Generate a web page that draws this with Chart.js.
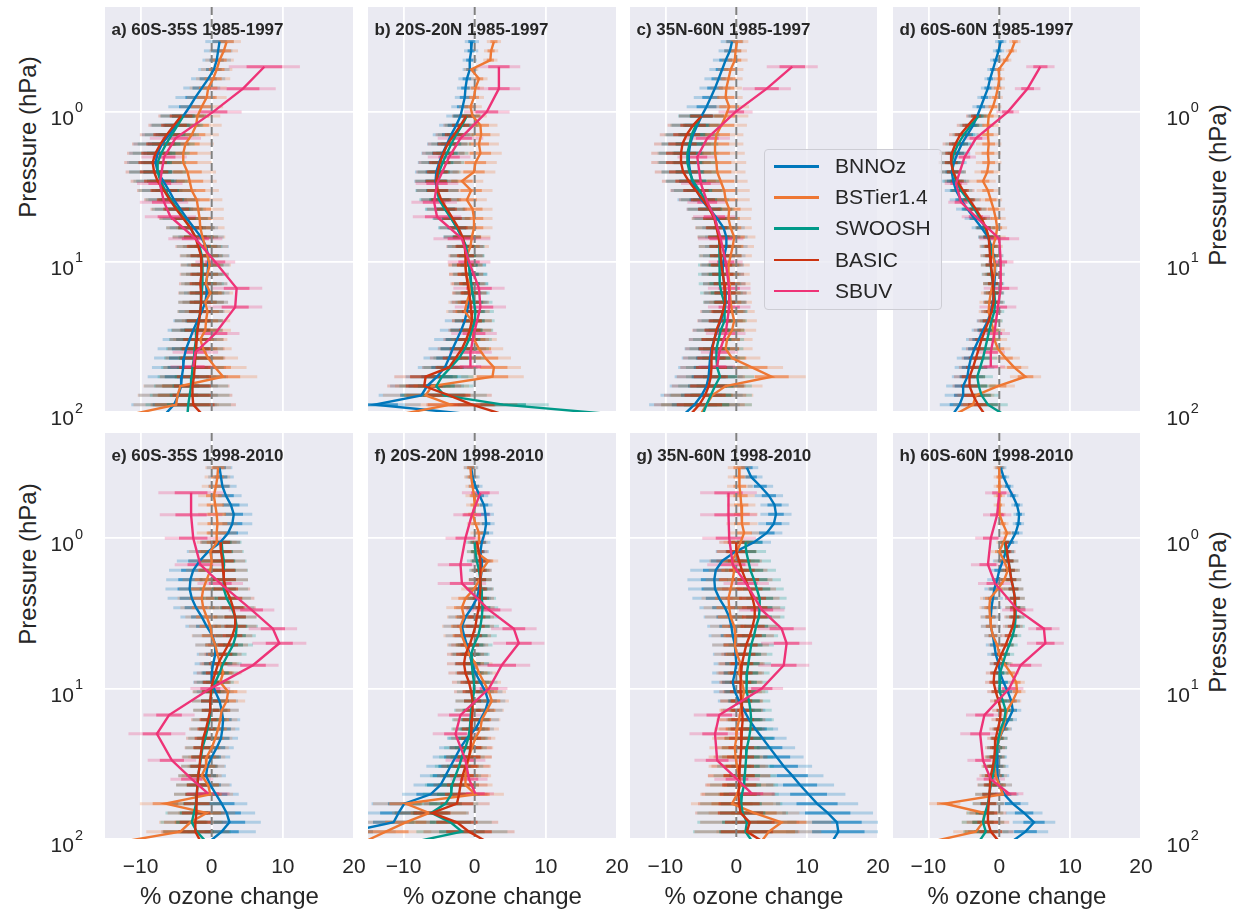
<!DOCTYPE html>
<html>
<head>
<meta charset="utf-8">
<script src="https://cdn.jsdelivr.net/npm/chart.js@4.4.0/dist/chart.umd.min.js"></script>
<style>
  body { margin: 0; background: #ffffff; width: 1236px; height: 915px; position: relative; overflow: hidden;
         font-family: "Liberation Sans", Arial, sans-serif; color: #262626; }
  canvas { position: absolute; }
  .ytitle { position: absolute; font-size: 24px; white-space: nowrap; transform: translate(-50%, -50%) rotate(-90deg); }
  #legend { position: absolute; left: 764px; top: 149px; width: 176px; height: 159px; z-index: 10;
            border: 1px solid #cdcdd4; border-radius: 4px; background: rgba(234, 234, 242, 0.8); }
  .lrow { position: absolute; left: 0; height: 0; }
  .lline { position: absolute; left: 9px; width: 45px; height: 2.5px; top: -1px; }
  .ltext { position: absolute; left: 70px; top: -13px; font-size: 21px; line-height: 26px; white-space: nowrap; }
</style>
</head>
<body>
<div class="ytitle" style="left:28px; top:137px">Pressure (hPa)</div>
<div class="ytitle" style="left:28px; top:564px">Pressure (hPa)</div>
<div class="ytitle" style="left:1218px; top:185px">Pressure (hPa)</div>
<div class="ytitle" style="left:1218px; top:612px">Pressure (hPa)</div>
<div id="legend"></div>
<script>
// series and levels
const SERIES_NAMES = ['BNNOz', 'BSTier1.4', 'SWOOSH', 'BASIC', 'SBUV'];
const SERIES_COLORS = ['#0077BB', '#EE7733', '#009988', '#CC3311', '#EE3377'];
const PANEL_TITLES = ['a) 60S-35S 1985-1997', 'b) 20S-20N 1985-1997', 'c) 35N-60N 1985-1997', 'd) 60S-60N 1985-1997',
                      'e) 60S-35S 1998-2010', 'f) 20S-20N 1998-2010', 'g) 35N-60N 1998-2010', 'h) 60S-60N 1998-2010'];
const X_TICKS = [-10, 0, 10, 20];
const Y_TICKS = [1, 10, 100];

// pressure levels (hPa), top to bottom
const PRESSURE_MODEL = [0.340, 0.392, 0.452, 0.522, 0.602, 0.694, 0.801, 0.924, 1.066, 1.229, 1.418, 1.636, 1.887, 2.177,
  2.512, 2.897, 3.342, 3.855, 4.447, 5.130, 5.918, 6.827, 7.876, 9.085, 10.48, 12.09, 13.95, 16.09, 18.56, 21.41, 24.70,
  28.49, 32.86, 37.91, 43.73, 50.45, 58.19, 67.13, 77.44, 89.33, 103.05];
const PRESSURE_SWOOSH = PRESSURE_MODEL.slice(8);
const PRESSURE_SBUV = [0.5, 0.7, 1, 1.5, 2, 3, 4, 5, 7, 10, 15, 20, 30, 40, 50];

// a) 60S-35S 1985-1997
const bnnozA = [1.1, 0.9, 0.7, 0.3, -0.5, -1.4, -2.3, -3.1, -4.0, -5.0, -6.0, -7.0, -7.6, -7.9, -7.6, -6.8, -6.0, -5.3, -4.4, -3.5, -2.5, -1.5, -0.8, -0.5, -0.5, -0.6, -0.8, -0.7, -0.9, -1.4, -2.0, -2.6, -3.1, -3.6, -3.9, -4.0, -4.2, -4.3, -4.7, -5.3, -6.5];
const bstierA = [2.1, 1.7, 1.1, 0.7, 0.2, -0.5, -0.7, -1.4, -2.0, -2.2, -2.8, -3.7, -4.0, -4.0, -3.4, -3.1, -2.8, -2.1, -1.9, -1.7, -1.6, -1.3, -0.9, -0.6, -0.3, -0.6, -0.8, -0.2, -0.9, -0.6, -0.8, -0.9, -1.6, -1.2, -0.5, 0.5, 1.6, -4.4, -4.8, -5.0, -11.0];
const swooshA = [-4.0, -4.8, -5.6, -6.4, -7.1, -7.6, -7.6, -7.2, -6.5, -5.7, -4.8, -3.9, -3.0, -2.3, -1.7, -1.4, -1.3, -1.3, -1.3, -1.4, -1.5, -1.6, -1.8, -2.1, -2.2, -2.4, -2.5, -2.7, -2.8, -2.9, -3.1, -3.3, -3.4];
const basicA = [-4.3, -5.3, -6.3, -7.2, -7.9, -8.3, -8.1, -7.6, -6.7, -5.9, -5.0, -4.0, -3.0, -2.3, -1.9, -1.5, -1.4, -1.5, -1.6, -1.5, -1.5, -1.6, -1.8, -2.0, -2.1, -2.2, -2.3, -2.4, -2.5, -2.7, -2.7, -2.6, -1.4];
const sbuvA = [7.4, 4.4, 0.2, -5.1, -6.7, -7.3, -6.7, -5.8, -2.3, 0.5, 3.5, 3.3, 0.5, -2.3, -2.6];
const errA = [1.0, 1.0, 1.0, 1.1, 1.2, 1.3, 1.4, 1.5, 1.6, 1.8, 1.9, 2.0, 2.0, 2.0, 2.0, 1.9, 1.9, 1.8, 1.8, 1.7, 1.7, 1.6, 1.6, 1.5, 1.5, 1.5, 1.5, 1.6, 1.6, 1.6, 1.7, 1.8, 1.9, 2.0, 2.1, 2.2, 2.4, 2.6, 2.8, 3.0, 3.2];
const errSbuvA = [2.5, 2.3, 2.0, 1.8, 1.6, 1.6, 1.7, 1.8, 1.9, 1.4, 1.8, 1.9, 1.7, 1.6, 1.6];

// b) 20S-20N 1985-1997
const bnnozB = [-0.4, -0.5, -0.7, -0.7, -1.1, -1.3, -1.4, -1.7, -2.0, -2.6, -3.3, -3.9, -4.5, -5.0, -5.4, -5.5, -5.3, -4.8, -4.1, -3.3, -2.5, -1.8, -1.3, -1.1, -0.8, -0.6, -0.5, -0.6, -0.8, -1.1, -1.4, -1.9, -2.5, -3.1, -3.6, -4.2, -5.3, -6.7, -7.5, -14.0, -1.0];
const bstierB = [2.7, 2.3, 2.2, -0.5, 0.6, 0.1, -0.1, -0.6, -0.3, 0.8, 0.9, 0.6, 0.8, 0.1, -0.1, -1.8, -0.5, -1.1, -0.3, -0.1, -0.1, -0.4, -0.6, -1.1, -1.3, -1.2, -0.8, -0.7, -1.1, -1.4, -0.4, -0.5, -0.1, 0.6, 1.5, 2.7, 2.5, -6.0, -6.9, -3.4, -10.2];
const swooshB = [-1.1, -1.8, -2.6, -3.3, -3.9, -4.5, -5.0, -5.3, -5.3, -5.0, -4.2, -3.3, -2.5, -1.8, -1.2, -1.0, -0.8, -0.7, -0.5, -0.3, -0.1, 0.1, 0.0, -0.4, -0.8, -1.4, -2.2, -3.4, -4.6, -5.4, -4.3, 4.0, 18.9];
const basicB = [-1.2, -2.0, -2.9, -3.8, -4.4, -4.9, -5.2, -5.4, -5.2, -4.7, -3.9, -3.1, -2.3, -1.7, -1.4, -1.3, -1.3, -1.2, -1.0, -0.8, -0.6, -0.5, -0.4, -0.7, -1.2, -1.8, -2.7, -3.6, -6.9, -7.1, -3.6, -0.4, 3.8];
const sbuvB = [3.4, 3.4, 1.7, -2.0, -3.6, -5.3, -5.7, -5.3, -1.8, -0.8, 0.6, 0.8, -0.1, -0.6, -0.6];
const errB = [0.5, 0.5, 0.5, 0.5, 0.6, 0.6, 0.7, 0.8, 1.0, 1.2, 1.3, 1.4, 1.5, 1.5, 1.5, 1.5, 1.5, 1.4, 1.4, 1.3, 1.3, 1.3, 1.3, 1.2, 1.2, 1.2, 1.2, 1.2, 1.3, 1.3, 1.4, 1.5, 1.6, 1.7, 1.8, 1.9, 2.2, 2.6, 3.0, 3.2, 3.4];
const errSbuvB = [1.5, 1.5, 1.6, 1.6, 1.5, 1.5, 1.6, 1.7, 2.0, 1.5, 1.8, 1.8, 1.6, 1.5, 1.5];

// c) 35N-60N 1985-1997
const bnnozC = [-0.6, -0.9, -1.5, -2.0, -2.5, -3.0, -3.6, -4.2, -4.9, -5.5, -6.1, -6.5, -6.7, -6.7, -6.5, -6.2, -5.6, -4.9, -3.8, -2.7, -1.8, -1.4, -1.4, -1.7, -1.9, -1.9, -1.7, -1.5, -1.5, -1.7, -2.2, -2.7, -3.1, -3.5, -3.7, -3.8, -3.9, -4.2, -4.9, -5.9, -7.3];
const bstierC = [0.1, -0.1, -0.2, -0.8, -1.1, -1.4, -1.5, -1.0, -1.5, -2.1, -2.8, -3.0, -3.0, -2.8, -2.7, -2.2, -1.7, -1.5, -1.0, -1.1, -0.8, -0.3, -0.5, -0.8, -1.1, -1.1, -1.0, -0.9, -0.8, -0.6, -0.3, -0.6, -1.3, -1.5, -0.6, 2.2, 5.0, -1.5, -3.4, -4.2, -5.0];
const swooshC = [-5.0, -5.7, -6.3, -6.6, -6.9, -6.9, -6.6, -6.1, -5.2, -4.4, -3.6, -3.0, -2.7, -2.4, -2.3, -2.3, -2.4, -2.4, -2.3, -2.1, -1.7, -1.6, -1.7, -2.2, -2.5, -2.8, -2.8, -2.7, -2.3, -3.0, -3.6, -4.2, -4.7];
const basicC = [-4.9, -6.1, -7.0, -7.6, -7.8, -7.8, -7.5, -6.7, -5.7, -4.7, -3.8, -3.1, -2.8, -2.5, -2.3, -2.2, -2.1, -1.9, -1.7, -1.6, -1.6, -1.9, -2.3, -2.8, -3.1, -3.4, -3.5, -3.5, -3.6, -3.9, -4.4, -5.2, -6.4];
const sbuvC = [7.9, 4.3, -0.1, -4.1, -5.5, -5.0, -4.1, -3.1, -2.2, -1.5, -1.0, -1.0, -1.5, -2.4, -2.7];
const errC = [0.8, 0.8, 0.9, 0.9, 1.0, 1.1, 1.2, 1.4, 1.6, 1.8, 1.9, 2.0, 2.1, 2.1, 2.0, 1.9, 1.8, 1.7, 1.6, 1.6, 1.5, 1.5, 1.5, 1.5, 1.5, 1.5, 1.5, 1.5, 1.5, 1.6, 1.6, 1.7, 1.8, 1.9, 2.0, 2.2, 2.4, 2.6, 2.9, 3.2, 3.4];
const errSbuvC = [1.8, 1.7, 1.2, 1.6, 1.4, 1.4, 1.4, 1.5, 1.6, 1.2, 1.5, 1.5, 1.4, 1.3, 1.3];

// d) 60S-60N 1985-1997
const bnnozD = [0.2, -0.1, -0.5, -0.9, -1.3, -1.6, -2.1, -2.6, -3.1, -3.7, -4.5, -5.3, -5.9, -6.4, -6.7, -6.5, -6.1, -5.4, -4.5, -3.5, -2.5, -1.6, -1.1, -0.8, -0.6, -0.6, -0.7, -0.8, -0.9, -1.2, -1.6, -2.3, -2.9, -3.5, -4.0, -4.3, -4.5, -5.1, -5.1, -5.6, -6.5];
const bstierD = [2.2, 1.7, 0.9, -0.1, 0.0, -0.2, -0.5, -0.9, -1.5, -1.6, -1.6, -1.5, -1.6, -1.5, -1.7, -2.3, -1.6, -1.2, -0.8, -0.5, -0.3, -0.5, -0.9, -0.9, -0.6, -0.7, -0.9, -1.2, -1.4, -1.5, -1.2, -0.8, -0.7, -0.2, 0.9, 2.1, 3.7, -0.2, -3.3, -3.7, -6.1];
const swooshD = [-2.9, -4.0, -5.0, -5.8, -6.4, -6.7, -6.5, -6.1, -5.4, -4.4, -3.5, -2.7, -2.0, -1.5, -1.3, -1.2, -1.2, -1.1, -0.9, -0.7, -0.6, -0.7, -1.1, -1.4, -1.7, -2.0, -2.3, -2.7, -3.1, -2.9, -2.5, -1.6, 0.5];
const basicD = [-3.3, -4.4, -5.5, -6.2, -6.7, -6.8, -6.5, -5.9, -5.1, -4.2, -3.3, -2.5, -1.9, -1.5, -1.4, -1.3, -1.2, -1.0, -0.9, -0.8, -0.8, -1.1, -1.5, -2.0, -2.5, -2.9, -3.3, -3.7, -4.2, -4.2, -3.7, -3.0, -2.1];
const sbuvD = [5.8, 4.0, 1.2, -3.3, -4.9, -6.1, -5.4, -3.3, 0.0, 0.2, 0.2, -0.2, -0.7, -1.2, -1.2];
const errD = [0.4, 0.4, 0.4, 0.4, 0.4, 0.5, 0.5, 0.6, 0.7, 0.8, 0.8, 0.9, 0.9, 0.9, 0.9, 0.9, 0.8, 0.8, 0.8, 0.7, 0.7, 0.7, 0.7, 0.7, 0.7, 0.7, 0.7, 0.7, 0.7, 0.7, 0.8, 0.8, 0.9, 0.9, 1.0, 1.0, 1.1, 1.2, 1.3, 1.4, 1.5];
const errSbuvD = [1.0, 0.9, 0.8, 0.9, 0.8, 0.8, 0.9, 1.0, 1.4, 0.9, 1.2, 1.3, 1.1, 1.0, 1.0];

// e) 60S-35S 1998-2010
const bnnozE = [1.1, 1.3, 1.5, 2.0, 2.7, 3.1, 2.9, 2.3, 1.2, -0.5, -1.7, -2.6, -3.0, -3.1, -2.8, -2.2, -1.4, -0.7, 0.1, 0.5, 0.5, 0.2, 0.0, 0.0, 0.5, 1.1, 1.4, 1.6, 1.5, 1.3, 0.7, 0.0, -0.6, -0.8, -0.2, 0.6, 1.4, 2.1, 2.5, 1.4, -0.2];
const bstierE = [0.9, 0.8, 0.6, 0.3, 0.5, 0.7, 0.8, 0.7, 0.7, -0.2, 0.0, -0.2, -0.7, -1.2, -1.4, -1.2, -0.7, -0.2, 0.0, 0.5, 0.8, 1.2, 1.6, 1.2, 2.3, 2.1, 1.4, 1.2, 0.9, 0.5, 0.0, -0.7, -0.8, -1.4, -0.5, -0.2, -6.5, -0.7, -3.0, -4.4, -11.9];
const swooshE = [1.4, 1.5, 1.7, 1.7, 1.7, 1.7, 2.1, 2.8, 3.3, 3.5, 3.4, 3.0, 2.3, 1.6, 1.1, 0.5, 0.0, -0.2, -0.2, -0.3, -0.6, -0.9, -1.3, -1.5, -1.7, -1.9, -2.0, -2.1, -2.2, -2.5, -2.8, -2.1, -0.9];
const basicE = [1.2, 1.3, 1.5, 1.6, 1.7, 2.0, 2.6, 3.0, 3.3, 3.3, 2.9, 2.3, 1.6, 0.9, 0.5, 0.1, -0.1, -0.2, -0.2, -0.5, -0.8, -1.2, -1.4, -1.6, -1.7, -1.9, -2.0, -2.1, -2.1, -2.2, -2.3, -2.3, -1.6];
const sbuvE = [-2.9, -2.9, -2.6, -1.6, 1.2, 5.6, 8.6, 9.5, 5.8, -0.2, -6.0, -7.7, -5.6, -2.8, -0.5];
const errE = [0.9, 0.9, 1.0, 1.1, 1.2, 1.3, 1.4, 1.4, 1.4, 1.5, 1.6, 1.7, 1.7, 1.7, 1.7, 1.6, 1.5, 1.5, 1.4, 1.4, 1.3, 1.3, 1.3, 1.3, 1.3, 1.3, 1.2, 1.2, 1.2, 1.2, 1.2, 1.3, 1.3, 1.4, 1.5, 1.6, 1.8, 2.0, 2.2, 2.4, 2.6];
const errSbuvE = [2.3, 2.2, 2.0, 1.8, 1.6, 1.6, 1.7, 1.9, 1.8, 1.4, 1.8, 2.0, 1.7, 1.5, 1.5];

// f) 20S-20N 1998-2010
const bnnozF = [-0.5, -0.3, 0.1, 0.7, 1.3, 1.5, 1.6, 1.4, 1.0, 0.8, 1.0, 1.0, 0.8, 0.6, 0.3, -0.4, -1.3, -1.8, -1.5, -1.1, -0.7, -0.4, 0.1, 0.8, 1.5, 1.9, 1.5, 0.8, 0.1, -1.1, -2.0, -2.7, -3.4, -4.1, -4.8, -6.2, -9.9, -10.7, -11.4, -17.5, -17.5];
const bstierF = [-0.6, -0.5, -0.3, -0.1, 0.0, -0.3, 0.1, 0.6, 0.6, 0.1, 1.9, 1.0, 0.7, -0.1, -1.3, -1.8, -1.5, -2.0, -1.8, -1.3, -0.8, 0.1, 0.6, 1.3, 2.0, 2.4, 1.7, 1.0, 0.8, 0.1, -0.4, -0.8, -1.1, -1.3, -1.3, 0.1, -9.7, -6.4, -9.7, -12.5, -15.3];
const swooshF = [0.0, 0.1, 0.3, 0.6, 0.8, 0.9, 1.0, 1.1, 1.0, 0.8, 0.5, -0.1, -0.5, -0.4, -0.3, -0.1, -0.1, -0.3, -0.5, -0.6, -0.7, -0.9, -1.3, -1.8, -2.2, -2.7, -3.2, -3.3, -4.1, -6.1, -3.4, -1.8, -7.9];
const basicF = [0.3, 0.6, 0.8, 0.8, 0.8, 0.8, 0.7, 0.6, 0.3, 0.1, -0.3, -0.7, -1.3, -1.5, -1.3, -0.8, -0.5, -0.3, -0.3, -0.4, -0.5, -0.5, -0.6, -0.8, -1.3, -1.7, -2.0, -2.2, -2.5, -6.0, -2.5, -0.8, 1.5];
const sbuvF = [0.8, -0.4, -1.3, -2.0, -1.8, 2.0, 5.5, 6.2, 3.8, 2.0, -2.0, -2.7, -1.3, -0.8, 0.1];
const errF = [0.5, 0.5, 0.5, 0.6, 0.6, 0.6, 0.6, 0.6, 0.6, 0.6, 0.7, 0.7, 0.8, 0.9, 1.0, 1.1, 1.2, 1.3, 1.3, 1.3, 1.3, 1.2, 1.2, 1.2, 1.2, 1.2, 1.2, 1.3, 1.3, 1.4, 1.5, 1.6, 1.7, 1.8, 1.9, 2.0, 2.3, 2.6, 2.9, 3.2, 3.4];
const errSbuvF = [1.3, 1.3, 1.4, 1.6, 1.7, 1.6, 1.6, 1.8, 2.0, 1.3, 1.6, 1.6, 1.4, 1.3, 1.3];

// g) 35N-60N 1998-2010
const bnnozG = [1.5, 2.1, 3.4, 4.6, 5.4, 5.6, 5.3, 4.3, 2.5, -0.1, -2.0, -2.9, -3.1, -3.0, -2.4, -1.6, -1.0, -0.7, -0.5, -0.2, -0.1, 0.0, -0.2, -0.5, -0.2, 0.4, 1.1, 1.8, 2.7, 3.7, 4.7, 5.7, 6.7, 7.9, 9.0, 10.2, 11.4, 12.9, 14.2, 14.4, 13.6];
const bstierG = [0.4, 0.4, 0.5, 0.6, 0.7, 0.8, 0.8, 1.1, 0.6, 0.1, -0.6, -0.3, -0.5, -0.8, -1.1, -1.0, -0.8, -0.3, -0.1, -0.2, 0.1, 0.6, 0.4, 0.8, 1.1, 0.8, 0.6, 0.4, 0.1, 0.0, -0.2, -0.1, 0.1, 0.4, 0.6, 0.1, -0.6, 2.5, 6.4, 4.6, 3.6];
const swooshG = [1.3, 1.4, 1.7, 2.0, 2.5, 2.9, 3.3, 3.3, 3.2, 2.8, 2.5, 2.1, 1.9, 1.7, 1.5, 1.4, 1.5, 1.8, 2.0, 2.1, 2.0, 1.8, 1.5, 1.4, 1.3, 1.2, 1.1, 0.8, 0.7, 0.9, 1.5, 1.3, 2.2];
const basicG = [0.0, 0.0, 0.4, 0.8, 1.3, 1.8, 2.3, 2.6, 2.6, 2.3, 1.9, 1.4, 1.1, 0.8, 0.7, 0.6, 0.6, 0.7, 0.8, 0.9, 0.8, 0.7, 0.7, 0.6, 0.5, 0.4, 0.4, 0.3, 0.4, 0.6, 1.9, 1.5, 3.6];
const sbuvG = [-1.1, -1.1, -1.0, -0.5, 1.4, 3.6, 6.4, 7.1, 6.7, 3.6, -2.4, -3.0, -2.7, 0.1, 2.2];
const errG = [0.8, 0.8, 0.9, 1.0, 1.0, 1.1, 1.1, 1.1, 1.2, 1.4, 1.6, 1.8, 1.9, 1.9, 1.9, 1.8, 1.8, 1.7, 1.7, 1.6, 1.6, 1.6, 1.6, 1.5, 1.5, 1.5, 1.5, 1.6, 1.6, 1.7, 1.8, 1.9, 2.0, 2.2, 2.4, 2.6, 2.9, 3.2, 3.5, 3.7, 3.9];
const errSbuvG = [2.0, 2.0, 1.9, 1.8, 1.6, 1.6, 1.7, 1.8, 1.8, 1.5, 1.8, 1.8, 1.6, 1.6, 1.6];

// h) 60S-60N 1998-2010
const bnnozH = [0.2, 0.6, 1.2, 1.9, 2.5, 2.8, 2.7, 2.3, 1.6, 0.9, 0.5, 0.0, -0.3, -0.7, -0.9, -1.1, -1.2, -1.2, -0.9, -0.7, -0.5, -0.1, 0.1, 0.6, 1.2, 1.7, 1.9, 1.3, 0.6, 0.0, -0.3, -0.3, -0.3, -0.2, 0.0, 0.7, 1.9, 3.5, 4.9, 3.7, 1.9];
const bstierH = [0.0, 0.0, 0.0, 0.0, 0.0, 0.1, 0.5, 1.1, 0.6, 0.0, 0.7, 1.2, 0.7, -0.2, -1.3, -1.4, -1.3, -1.2, -0.9, -0.3, 0.0, 0.7, 1.6, 2.4, 2.5, 1.9, 1.1, 0.8, 0.5, 0.0, -0.3, -0.6, -0.7, -0.5, 0.0, 0.5, -7.7, -2.1, -2.3, -3.3, -9.1];
const swooshH = [0.8, 0.9, 1.3, 1.5, 1.7, 2.0, 2.2, 2.3, 2.3, 2.2, 1.9, 1.4, 0.9, 0.5, 0.1, 0.0, 0.1, 0.5, 0.9, 0.7, 0.2, -0.1, -0.3, -0.5, -0.7, -0.9, -1.2, -1.4, -1.6, -2.0, -2.3, -1.9, -2.8];
const basicH = [0.9, 1.1, 1.3, 1.5, 1.7, 2.0, 2.2, 2.2, 2.1, 1.9, 1.4, 0.9, 0.3, -0.2, -0.7, -0.8, -0.5, -0.1, 0.2, 0.1, -0.2, -0.5, -0.6, -0.7, -0.9, -1.2, -1.3, -1.4, -1.5, -1.6, -1.6, -1.2, -0.1];
const sbuvH = [0.0, -0.3, -1.2, -1.6, -0.6, 2.6, 6.3, 6.5, 3.0, 1.4, -2.1, -2.7, -2.3, -1.2, 1.4];
const errH = [0.4, 0.4, 0.4, 0.4, 0.4, 0.4, 0.4, 0.5, 0.5, 0.6, 0.7, 0.7, 0.7, 0.7, 0.7, 0.7, 0.7, 0.7, 0.6, 0.6, 0.6, 0.6, 0.6, 0.6, 0.6, 0.6, 0.6, 0.6, 0.6, 0.6, 0.7, 0.7, 0.8, 0.8, 0.9, 1.0, 1.1, 1.3, 1.5, 1.6, 1.7];
const errSbuvH = [1.0, 1.0, 1.1, 1.2, 1.2, 1.1, 1.1, 1.3, 1.5, 1.0, 1.3, 1.4, 1.1, 1.0, 1.0];

const panels = [
  { values: [bnnozA, bstierA, swooshA, basicA, sbuvA], err: errA, errSbuv: errSbuvA },
  { values: [bnnozB, bstierB, swooshB, basicB, sbuvB], err: errB, errSbuv: errSbuvB },
  { values: [bnnozC, bstierC, swooshC, basicC, sbuvC], err: errC, errSbuv: errSbuvC },
  { values: [bnnozD, bstierD, swooshD, basicD, sbuvD], err: errD, errSbuv: errSbuvD },
  { values: [bnnozE, bstierE, swooshE, basicE, sbuvE], err: errE, errSbuv: errSbuvE },
  { values: [bnnozF, bstierF, swooshF, basicF, sbuvF], err: errF, errSbuv: errSbuvF },
  { values: [bnnozG, bstierG, swooshG, basicG, sbuvG], err: errG, errSbuv: errSbuvG },
  { values: [bnnozH, bstierH, swooshH, basicH, sbuvH], err: errH, errSbuv: errSbuvH },
];

// layout of the plot areas (px)
const COL_LEFT = [105, 368, 630, 893];
const COL_RIGHT = [354, 617, 878, 1141];
const ROW_TOP = [7, 433];
const ROW_BOTTOM = [412, 839];
const RIGHT_ROOM = 14;   // space kept right of cols a-c for the "20" tick label
const FONT = '"Liberation Sans", Arial, sans-serif';
const TEXT = '#262626';

Chart.defaults.font.family = FONT;
Chart.defaults.color = TEXT;

function rgba(hex, a) {
  const n = parseInt(hex.slice(1), 16);
  return 'rgba(' + (n >> 16) + ',' + ((n >> 8) & 255) + ',' + (n & 255) + ',' + a + ')';
}

const panelDecor = {
  id: 'panelDecor',
  beforeDraw(chart) {
    const { ctx, chartArea: a } = chart;
    ctx.save();
    ctx.fillStyle = '#EAEAF2';
    ctx.fillRect(a.left, a.top, a.width, a.height);
    ctx.restore();
  },
  beforeDatasetsDraw(chart) {
    const { ctx, chartArea: a, scales: { x, y } } = chart;
    ctx.save();
    ctx.beginPath();
    ctx.rect(a.left, a.top, a.width, a.height);
    ctx.clip();
    ctx.lineWidth = 3;
    ctx.lineCap = 'butt';
    chart.data.datasets.forEach(ds => {
      ds.data.forEach((pt, j) => {
        const e = ds.errs[j];
        const py = y.getPixelForValue(pt.y);
        ctx.strokeStyle = rgba(ds.borderColor, 0.25);
        ctx.beginPath();
        ctx.moveTo(x.getPixelForValue(pt.x - 2 * e), py);
        ctx.lineTo(x.getPixelForValue(pt.x + 2 * e), py);
        ctx.stroke();
        ctx.strokeStyle = rgba(ds.borderColor, 0.6);
        ctx.beginPath();
        ctx.moveTo(x.getPixelForValue(pt.x - e), py);
        ctx.lineTo(x.getPixelForValue(pt.x + e), py);
        ctx.stroke();
      });
    });
    const x0 = x.getPixelForValue(0);
    ctx.setLineDash([8, 4]);
    ctx.strokeStyle = '#808080';
    ctx.lineWidth = 2;
    ctx.beginPath();
    ctx.moveTo(x0, a.top);
    ctx.lineTo(x0, a.bottom);
    ctx.stroke();
    ctx.restore();
  },
  afterDatasetsDraw(chart, args, opts) {
    const { ctx, chartArea: a } = chart;
    ctx.save();
    ctx.font = 'bold 17px ' + FONT;
    ctx.fillStyle = TEXT;
    ctx.textBaseline = 'alphabetic';
    ctx.fillText(opts.title, a.left + 6.5, a.top + 27.5);
    ctx.restore();
  },
  afterDraw(chart, args, opts) {
    if (!opts.yLabels) return;
    const { ctx, chartArea: a, scales: { y } } = chart;
    ctx.save();
    ctx.fillStyle = TEXT;
    ctx.textBaseline = 'alphabetic';
    ctx.textAlign = 'left';
    Y_TICKS.forEach(v => {
      const py = y.getPixelForValue(v);
      const exp = String(Math.round(Math.log10(v)));
      ctx.font = '21px ' + FONT;
      const wb = ctx.measureText('10').width;
      ctx.font = '14.5px ' + FONT;
      const we = ctx.measureText(exp).width;
      const xs = opts.yLabels === 'left' ? a.left - 22 - we - 1 - wb : a.right + 25.5;
      ctx.font = '21px ' + FONT;
      ctx.fillText('10', xs, py + 13);
      ctx.font = '14.5px ' + FONT;
      ctx.fillText(exp, xs + wb + 1, py + 0.5);
    });
    ctx.restore();
  }
};

panels.forEach((p, k) => {
  const col = k % 4, row = Math.floor(k / 4);
  const left = col === 0 ? 0 : COL_LEFT[col];
  const padRight = col === 3 ? 0 : RIGHT_ROOM;
  const right = col === 3 ? 1236 : COL_RIGHT[col] + padRight;
  const top = ROW_TOP[row];
  const bottom = row === 1 ? 915 : ROW_TOP[1];
  const yW = col === 0 ? COL_LEFT[0] : (col === 3 ? 1236 - COL_RIGHT[3] : 0);
  const xH = bottom - ROW_BOTTOM[row];

  const canvas = document.createElement('canvas');
  canvas.width = right - left;
  canvas.height = bottom - top;
  canvas.style.left = left + 'px';
  canvas.style.top = top + 'px';
  canvas.style.width = (right - left) + 'px';
  canvas.style.height = (bottom - top) + 'px';
  document.body.appendChild(canvas);

  const datasets = p.values.map((vals, s) => {
    const levels = s === 4 ? PRESSURE_SBUV : (s === 2 || s === 3 ? PRESSURE_SWOOSH : PRESSURE_MODEL);
    const errs = s === 4 ? p.errSbuv : (s === 2 || s === 3 ? p.err.slice(8) : p.err);
    return {
      label: SERIES_NAMES[s],
      data: vals.map((v, i) => ({ x: v, y: levels[i] })),
      errs: errs,
      borderColor: SERIES_COLORS[s],
      backgroundColor: SERIES_COLORS[s],
      borderWidth: 2.4,
      pointRadius: 0,
      showLine: true,
      tension: 0,
      order: 5 - s
    };
  });

  new Chart(canvas, {
    type: 'scatter',
    data: { datasets },
    options: {
      responsive: false,
      animation: false,
      events: [],
      layout: { padding: { left: 0, top: 0, bottom: 0, right: padRight } },
      plugins: {
        legend: { display: false },
        tooltip: { enabled: false },
        panelDecor: { title: PANEL_TITLES[k], yLabels: col === 0 ? 'left' : (col === 3 ? 'right' : null) }
      },
      scales: {
        x: {
          type: 'linear', min: -15, max: 20, position: 'bottom',
          grid: { color: '#ffffff', lineWidth: 1.8, drawTicks: false },
          border: { display: false },
          ticks: {
            display: row === 1, font: { size: 21 }, color: TEXT, padding: 16, maxRotation: 0,
            callback: v => (v < 0 ? '\u2212' + Math.abs(v) : String(v))
          },
          title: { display: row === 1, text: '% ozone change', font: { size: 24 }, color: TEXT, padding: { top: 0, bottom: 3 } },
          afterBuildTicks: s => { s.ticks = X_TICKS.map(v => ({ value: v })); },
          afterFit: s => { s.height = xH; s.paddingLeft = 0; s.paddingRight = 0; }
        },
        y: {
          type: 'logarithmic', reverse: true, min: 0.2, max: 100,
          position: col === 3 ? 'right' : 'left',
          grid: { color: '#ffffff', lineWidth: 1.8, drawTicks: false },
          border: { display: false },
          ticks: { display: false },
          afterBuildTicks: s => { s.ticks = Y_TICKS.map(v => ({ value: v })); },
          afterFit: s => { s.width = yW; s.paddingTop = 0; s.paddingBottom = 0; }
        }
      }
    },
    plugins: [panelDecor]
  });
});

// legend
const legend = document.getElementById('legend');
SERIES_NAMES.forEach((name, s) => {
  const row = document.createElement('div');
  row.className = 'lrow';
  row.style.top = (16 + s * 31.2) + 'px';
  row.innerHTML = '<div class="lline" style="background:' + SERIES_COLORS[s] + '"></div><div class="ltext">' + name + '</div>';
  legend.appendChild(row);
});
</script>
</body>
</html>
